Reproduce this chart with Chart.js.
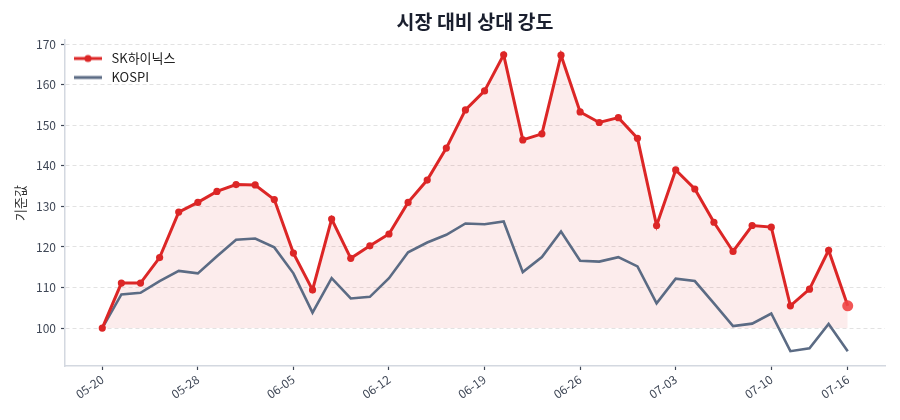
<!DOCTYPE html>
<html>
<head>
<meta charset="utf-8">
<script src="https://cdn.jsdelivr.net/npm/chart.js@4/dist/chart.umd.min.js"></script>
<style>
  html, body { margin: 0; padding: 0; background: #ffffff; }
  #wrap { width: 900px; height: 420px; }
</style>
</head>
<body>
<div id="wrap"><canvas id="c" width="900" height="420"></canvas></div>
<script>
const dates = ['05-20','05-21','05-22','05-23','05-24','05-28','05-29','05-30','05-31','06-03',
               '06-05','06-06','06-07','06-10','06-11','06-12','06-13','06-14','06-17','06-18',
               '06-19','06-20','06-21','06-24','06-25','06-26','06-27','06-28','07-01','07-02',
               '07-03','07-04','07-05','07-08','07-09','07-10','07-11','07-12','07-15','07-16'];
const skHynix = [100.0,111.1,111.1,117.4,128.6,131.0,133.7,135.4,135.3,131.7,
                 118.5,109.4,126.9,117.2,120.3,123.2,131.0,136.5,144.4,153.8,
                 158.5,167.4,146.4,147.9,167.3,153.3,150.7,151.9,146.8,125.3,
                 139.0,134.3,126.1,118.9,125.3,124.9,105.5,109.6,119.2,105.5];
const kospi = [100.0,108.3,108.7,111.6,114.1,113.5,117.7,121.8,122.1,119.9,
               113.5,103.8,112.3,107.3,107.7,112.3,118.7,121.1,123.0,125.8,
               125.6,126.3,113.8,117.5,123.8,116.6,116.4,117.5,115.2,106.1,
               112.2,111.6,106.1,100.5,101.1,103.6,94.3,95.0,101.0,94.3];
const tickIndex = [0,5,10,15,20,25,30,35,39];
const yTicks = [100,110,120,130,140,150,160,170];
const seriesNames = ['SK하이닉스','KOSPI'];

const FONT = "'Noto Sans CJK KR', 'Noto Sans', sans-serif";
const RED = '#dc2626';
const SLATE = '#5b6b84';
const TICKCOL = '#3f4756';

function legendIcon(color, withDot) {
  const cv = document.createElement('canvas');
  cv.width = 30; cv.height = 10;
  const g = cv.getContext('2d');
  g.strokeStyle = color; g.lineWidth = 3; g.lineCap = 'butt';
  g.beginPath(); g.moveTo(1, 5); g.lineTo(29, 5); g.stroke();
  if (withDot) { g.fillStyle = color; g.beginPath(); g.arc(15, 5, 3.6, 0, Math.PI*2); g.fill(); }
  return cv;
}
const icons = [legendIcon(RED, true), legendIcon(SLATE, false)];
const last = skHynix.length - 1;

// place the legend inside the plot area and centre the title over the plot area
const placement = {
  id: 'placement',
  afterLayout(chart) {
    const a = chart.chartArea;
    if (chart.legend) {
      const h = chart.legend.height;
      chart.legend.top = a.top;
      chart.legend.bottom = a.top + h;
      chart.legend.left = a.left;
    }
    if (chart.titleBlock) {
      chart.titleBlock.left = a.left;
      chart.titleBlock.right = a.right;
      chart.titleBlock.width = a.right - a.left;
    }
  }
};

new Chart(document.getElementById('c'), {
  type: 'line',
  plugins: [placement],
  data: {
    datasets: [
      {
        label: seriesNames[0],
        data: skHynix.map((v, i) => ({ x: i, y: v })),
        borderColor: RED,
        borderWidth: 3,
        backgroundColor: 'rgba(220,38,38,0.085)',
        fill: { value: 100 },
        tension: 0,
        pointRadius: (c) => c.dataIndex === last ? 5.5 : 3.6,
        pointBackgroundColor: (c) => c.dataIndex === last ? 'rgba(239,68,68,0.9)' : RED,
        pointBorderWidth: 0,
        pointHoverRadius: 5
      },
      {
        label: seriesNames[1],
        data: kospi.map((v, i) => ({ x: i, y: v })),
        borderColor: SLATE,
        borderWidth: 2.6,
        fill: false,
        tension: 0,
        pointRadius: 0
      }
    ]
  },
  options: {
    responsive: false,
    animation: false,
    devicePixelRatio: 1,
    layout: { padding: { left: 0, right: 15, top: 0, bottom: 0 } },
    plugins: {
      filler: { drawTime: 'beforeDatasetsDraw' },
      title: {
        display: true,
        text: '시장 대비 상대 강도',
        color: '#1a1f2e',
        font: { family: FONT, size: 19.5, weight: 'bold' },
        padding: { top: 10, bottom: 6.6 }
      },
      legend: {
        position: 'chartArea',
        align: 'start',
        title: { display: true, text: '', font: { size: 5 }, padding: 0 },
        labels: {
          usePointStyle: true,
          pointStyleWidth: 34,
          padding: 6,
          color: '#222',
          font: { family: FONT, size: 13 },
          generateLabels: (chart) => chart.data.datasets.map((ds, i) => ({
            text: ds.label,
            pointStyle: icons[i],
            fillStyle: ds.borderColor,
            strokeStyle: ds.borderColor,
            lineWidth: 0,
            hidden: false,
            datasetIndex: i,
            fontColor: '#222'
          }))
        }
      },
      tooltip: { enabled: false }
    },
    scales: {
      x: {
        type: 'linear',
        min: -1.95,
        max: 40.95,
        afterBuildTicks: (s) => { s.ticks = tickIndex.map(v => ({ value: v })); },
        afterFit: (s) => { s.height = 54; },
        ticks: {
          autoSkip: false,
          minRotation: 35,
          maxRotation: 35,
          padding: 2,
          color: TICKCOL,
          font: { family: FONT, size: 12 },
          callback: (v) => dates[v]
        },
        grid: { display: true, drawOnChartArea: false, tickLength: 4, tickColor: TICKCOL, tickWidth: 1.2 },
        border: { display: true, color: '#d3d8e0', width: 1.5 }
      },
      y: {
        min: 90.65,
        max: 171.05,
        afterBuildTicks: (s) => { s.ticks = yTicks.map(v => ({ value: v })); },
        afterFit: (s) => { s.width = 65; },
        ticks: {
          padding: 5,
          color: TICKCOL,
          font: { family: FONT, size: 12 },
          callback: (v) => String(v)
        },
        grid: {
          display: true,
          drawOnChartArea: true,
          color: '#e2e2e2',
          lineWidth: 1,
          tickLength: 4,
          tickColor: TICKCOL,
          tickWidth: 1.2,
          tickBorderDash: []
        },
        border: { display: true, color: '#d3d8e0', width: 1.5, dash: [4, 3] },
        title: {
          display: true,
          text: '기준값',
          color: '#333',
          font: { family: FONT, size: 13 },
          padding: { top: 12, bottom: 0 }
        }
      }
    }
  }
});
</script>
</body>
</html>
